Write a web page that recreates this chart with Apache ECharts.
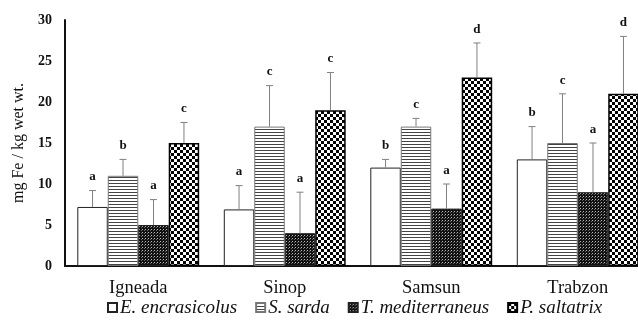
<!DOCTYPE html>
<html>
<head>
<meta charset="utf-8">
<script src="https://cdn.jsdelivr.net/npm/echarts@6/dist/echarts.min.js"></script>
<style>
  html, body { margin: 0; padding: 0; background: #fff; overflow: hidden; }
  #chart { width: 652px; height: 320px; }
</style>
</head>
<body>
<div id="chart"></div>
<script>
// Sampling sites
const sites = ['Igneada', 'Sinop', 'Samsun', 'Trabzon'];
// Species
const species = ['E. encrasicolus', 'S. sarda', 'T. mediterraneus', 'P. saltatrix'];
// Mean Fe concentration (mg/kg wet wt.) per species, one value per site
const meanE = [7.2, 6.9, 12, 13];
const meanS = [11, 17, 17, 15];
const meanT = [5, 4, 7, 9];
const meanP = [15, 19, 23, 21];
// Standard deviations (upper whisker length)
const sdE = [2, 2.9, 1, 4];
const sdS = [2, 5, 1, 6];
const sdT = [3.1, 5, 3, 6];
const sdP = [2.5, 4.6, 4.2, 7];
// Significance letters
const letE = ['a', 'a', 'b', 'b'];
const letS = ['b', 'c', 'c', 'c'];
const letT = ['a', 'a', 'a', 'a'];
const letP = ['c', 'c', 'd', 'd'];
// Y axis ticks
const yTicks = [0, 5, 10, 15, 20, 25, 30];

const means = [meanE, meanS, meanT, meanP];
const sds = [sdE, sdS, sdT, sdP];
const letters = [letE, letS, letT, letP];

const SERIF = '"Liberation Serif", "DejaVu Serif", serif';
const BAR_FRAC = 0.208;

// Fill patterns drawn on small tiles
function tile(w, h, draw) {
  const c = document.createElement('canvas');
  c.width = w; c.height = h;
  const ctx = c.getContext('2d');
  ctx.fillStyle = '#fff';
  ctx.fillRect(0, 0, w, h);
  draw(ctx);
  return c;
}
const stripeTile = tile(4, 3, ctx => {
  ctx.fillStyle = '#444';
  ctx.fillRect(0, 0, 4, 1);
});
const fineTile = tile(3, 3, ctx => {
  ctx.fillStyle = '#111';
  ctx.fillRect(0, 0, 3, 3);
  ctx.fillStyle = '#bbb';
  ctx.fillRect(1, 1, 1, 1);
  ctx.fillStyle = '#666';
  ctx.fillRect(0, 2, 1, 1);
});
const checkTile = tile(6, 6, ctx => {
  ctx.fillStyle = '#000';
  ctx.fillRect(0, 0, 3, 3);
  ctx.fillRect(3, 3, 3, 3);
});

const styles = [
  { color: '#ffffff', borderColor: '#222', borderWidth: 1 },
  { color: { image: stripeTile, repeat: 'repeat' }, borderColor: '#777', borderWidth: 1 },
  { color: { image: fineTile, repeat: 'repeat' }, borderColor: '#222', borderWidth: 1 },
  { color: { image: checkTile, repeat: 'repeat' }, borderColor: '#000', borderWidth: 1.5 }
];

const series = [];
species.forEach((name, i) => {
  series.push({
    name: name,
    type: 'bar',
    data: means[i],
    barWidth: (BAR_FRAC * 100) + '%',
    barGap: '0%',
    itemStyle: styles[i],
    z: 2
  });
});

// Upper whiskers and significance letters
species.forEach((name, i) => {
  series.push({
    type: 'custom',
    name: name + ' sd',
    data: means[i].map((m, k) => [k, m, m + sds[i][k], letters[i][k]]),
    z: 3,
    renderItem: function (params, api) {
      const k = api.value(0);
      const band = api.size([1, 0])[0];
      const bw = band * BAR_FRAC;
      const base = api.coord([k, api.value(1)]);
      const top = api.coord([k, api.value(2)]);
      const x = base[0] + (i - 1.5) * bw;
      return {
        type: 'group',
        children: [
          { type: 'line', shape: { x1: x, y1: base[1], x2: x, y2: top[1] },
            style: { stroke: '#808080', lineWidth: 1 } },
          { type: 'line', shape: { x1: x - 3.5, y1: top[1], x2: x + 3.5, y2: top[1] },
            style: { stroke: '#808080', lineWidth: 1 } },
          { type: 'text', x: x, y: top[1] - 7,
            style: { text: api.value(3), fill: '#111', font: 'bold 13px ' + SERIF,
                     align: 'center', verticalAlign: 'bottom' } }
        ]
      };
    }
  });
});

const chart = echarts.init(document.getElementById('chart'), null, { renderer: 'canvas' });
chart.setOption({
  animation: false,
  backgroundColor: '#fff',
  grid: { left: 65, top: 20, width: 586, height: 246, containLabel: false },
  legend: {
    data: species,
    top: 293,
    left: 102,
    icon: 'rect',
    itemWidth: 9,
    itemHeight: 9,
    itemGap: 18,
    textStyle: { fontFamily: SERIF, fontStyle: 'italic', fontSize: 19, color: '#111', padding: [0, 0, 0, -2] }
  },
  xAxis: {
    type: 'category',
    data: sites,
    axisLine: { lineStyle: { color: '#111', width: 2 } },
    axisTick: { show: false },
    axisLabel: { fontFamily: SERIF, fontSize: 18.5, color: '#111', margin: 13 }
  },
  yAxis: {
    type: 'value',
    min: 0,
    max: 30,
    interval: 5,
    name: 'mg Fe / kg wet wt.',
    nameLocation: 'middle',
    nameGap: 26,
    nameTextStyle: { fontFamily: SERIF, fontSize: 16, color: '#111' },
    axisLine: { show: true, lineStyle: { color: '#111', width: 2 } },
    axisTick: { show: false },
    splitLine: { show: false },
    axisLabel: {
      fontFamily: SERIF, fontSize: 14, fontWeight: 'bold', color: '#111', margin: 13,
      formatter: v => (yTicks.indexOf(v) >= 0 ? String(v) : '')
    }
  },
  series: series
});
</script>
</body>
</html>
